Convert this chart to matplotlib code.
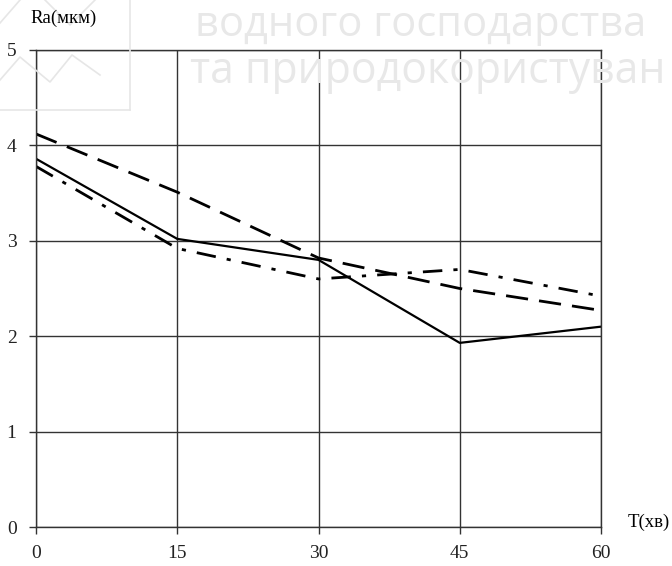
import matplotlib
matplotlib.use("Agg")
import matplotlib.pyplot as plt

t_min = [0, 15, 30, 45, 60]
ra_solid = [3.86, 3.02, 2.80, 1.93, 2.10]
ra_dashed = [4.12, 3.51, 2.82, 2.50, 2.27]
ra_dashdot = [3.78, 2.92, 2.60, 2.70, 2.42]
x_ticks = [0, 15, 30, 45, 60]
y_ticks = [0, 1, 2, 3, 4, 5]

W, H = 672, 566
fig = plt.figure(figsize=(W / 100, H / 100), dpi=100)

# faint watermark
wm = dict(color="#e8e8e8", family="Open Sans", zorder=0)
fig.text(195 / W, 1 - 36 / H, "водного господарства", va="baseline", ha="left",
         fontsize=30, **wm)
fig.text(190 / W, 1 - 83 / H, "та природокористуван", va="baseline", ha="left",
         fontsize=30.8, **wm)
lg = dict(color="#e6e6e6", lw=1.2, transform=fig.transFigure, zorder=0)
fig.lines.append(plt.Line2D([130 / W, 130 / W], [1, 1 - 110 / H], **lg))
fig.lines.append(plt.Line2D([0, 130 / W], [1 - 110 / H, 1 - 110 / H], **lg))
for zx, zy in [([0, 20], [23, 0]),
               ([45, 70, 95], [0, 25, 0]),
               ([0, 20, 50, 72, 100], [80, 57, 82, 55, 75])]:
    fig.lines.append(plt.Line2D([v / W for v in zx], [1 - v / H for v in zy], **lg))

ax = fig.add_axes([36 / W, 1 - 527 / H, (601 - 36) / W, (527 - 50) / H])
ax.patch.set_alpha(0)
ax.set_xlim(0, 60)
ax.set_ylim(0, 5)
ax.set_xticks(x_ticks)
ax.set_yticks(y_ticks)
ax.grid(True, color="#333333", lw=1.0)
for s in ax.spines.values():
    s.set_color("#333333")
    s.set_linewidth(1.0)
ax.tick_params(axis="both", color="#333333", length=5, width=1.0, labelsize=14)
ax.tick_params(axis="x", pad=8)
ax.tick_params(axis="y", pad=9)
for lab in ax.get_xticklabels() + ax.get_yticklabels():
    lab.set_family("Liberation Serif")
    lab.set_color("#222222")

ax.plot(t_min, ra_solid, color="black", lw=1.6, solid_capstyle="butt")
ax.plot(t_min, ra_dashed, color="black", lw=2.0, dashes=(8, 4))
ax.plot(t_min, ra_dashdot, color="black", lw=2.0, dashes=(7, 4, 1.5, 4))

fig.text(30 / W, 1 - 18 / H, "Ra(мкм)", family="Liberation Serif", fontsize=13.5,
         ha="left", va="center")
fig.text(628 / W, 1 - 522 / H, "T(хв)", family="Liberation Serif", fontsize=13.5,
         ha="left", va="center")

fig.savefig("out.png", dpi=100)
